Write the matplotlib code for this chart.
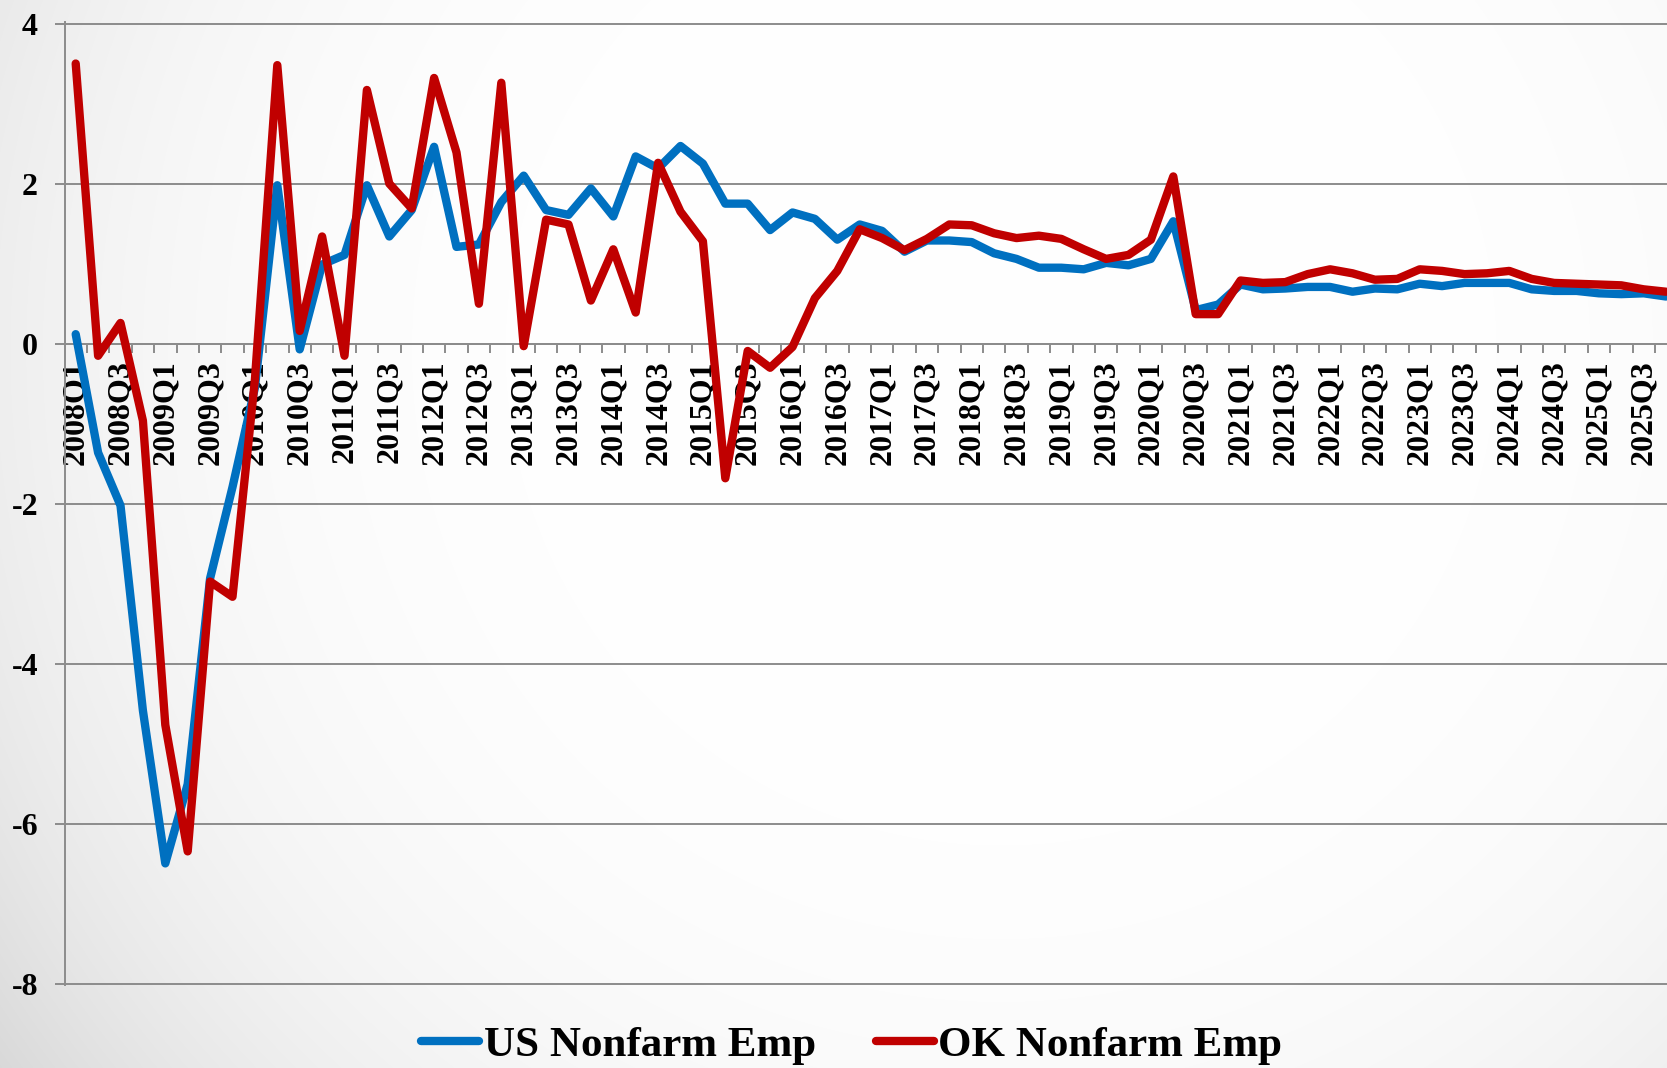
import numpy as np
import matplotlib
matplotlib.use("Agg")
import matplotlib.pyplot as plt
from matplotlib.lines import Line2D

plt.rcParams['font.family'] = ['Liberation Serif', 'DejaVu Serif']
plt.rcParams['font.weight'] = 'bold'
plt.rcParams['axes.unicode_minus'] = False

# ---------------- data ----------------
years = list(range(2008, 2026))
quarters = [f"{y}Q{q}" for y in years for q in range(1, 5)]

us_nonfarm = [
    0.12, -1.36, -2.02, -4.58, -6.49, -5.50, -2.93, -1.79,
    -0.55, 1.98, -0.07, 0.99, 1.11, 1.98, 1.34, 1.67,
    2.46, 1.21, 1.24, 1.77, 2.10, 1.67, 1.61, 1.94,
    1.59, 2.34, 2.19, 2.47, 2.25, 1.75, 1.75, 1.42,
    1.64, 1.56, 1.30, 1.49, 1.41, 1.15, 1.29, 1.29,
    1.27, 1.13, 1.06, 0.95, 0.95, 0.93, 1.01, 0.98,
    1.06, 1.53, 0.42, 0.49, 0.74, 0.68, 0.69, 0.71,
    0.71, 0.65, 0.69, 0.68, 0.75, 0.72, 0.76, 0.76,
    0.76, 0.68, 0.66, 0.66, 0.63, 0.62, 0.63, 0.59,
]
ok_nonfarm = [
    3.50, -0.15, 0.26, -0.96, -4.76, -6.34, -2.97, -3.16,
    -0.45, 3.48, 0.16, 1.34, -0.15, 3.17, 2.00, 1.69,
    3.32, 2.39, 0.50, 3.26, -0.03, 1.55, 1.49, 0.54,
    1.18, 0.39, 2.26, 1.65, 1.28, -1.68, -0.09, -0.30,
    -0.04, 0.57, 0.91, 1.43, 1.32, 1.17, 1.31, 1.49,
    1.48, 1.38, 1.32, 1.35, 1.31, 1.18, 1.06, 1.11,
    1.30, 2.09, 0.37, 0.37, 0.79, 0.76, 0.77, 0.87,
    0.93, 0.88, 0.80, 0.81, 0.93, 0.91, 0.87, 0.88,
    0.91, 0.81, 0.76, 0.75, 0.74, 0.73, 0.68, 0.65,
]
series_names = ["US Nonfarm Emp", "OK Nonfarm Emp"]
y_ticks = [-8, -6, -4, -2, 0, 2, 4]

BLUE = "#0070C0"
RED = "#C00000"
GRID = "#8c8c8c"

# ---------------- figure ----------------
W, H = 1667, 1068
fig = plt.figure(figsize=(W / 100, H / 100), dpi=100)

# background radial gradient
bg = fig.add_axes([0, 0, 1, 1], zorder=-1)
yy, xx = np.mgrid[0:H, 0:W]
d = np.sqrt((xx - 1000.0) ** 2 + (yy - 350.0) ** 2) / 1231.0
g = 1 - 0.15 * np.clip(d, 0, 1.2) ** 4
bg.imshow(np.dstack([g, g, g]), extent=[0, 1, 0, 1], aspect='auto',
          interpolation='bilinear', vmin=0, vmax=1)
bg.axis('off')

ax = fig.add_axes([64.5 / W, 1 - 985.5 / H, 1612.8 / W, (985.5 - 22.3) / H])
ax.set_facecolor('none')

x = np.arange(len(quarters))
lw = 6
ax.plot(x, us_nonfarm, color=BLUE, lw=lw, solid_joinstyle='round',
        solid_capstyle='round', zorder=3)
ax.plot(x, ok_nonfarm, color=RED, lw=lw, solid_joinstyle='round',
        solid_capstyle='round', zorder=4)

ax.set_xlim(-0.5, len(quarters) - 0.5)
ax.set_ylim(-8.015, 4.015)

# y axis
ax.set_yticks(y_ticks)
ax.set_yticklabels([str(v) for v in y_ticks], fontsize=23, fontweight='bold')
ax.yaxis.grid(True, color=GRID, lw=1.4)
ax.tick_params(axis='y', length=7, width=1.4, color=GRID, pad=12)

# spines
for s in ['top', 'right']:
    ax.spines[s].set_visible(False)
ax.spines['left'].set_color(GRID)
ax.spines['left'].set_linewidth(1.4)
ax.spines['bottom'].set_position(('data', 0))
ax.spines['bottom'].set_color(GRID)
ax.spines['bottom'].set_linewidth(1.4)

# x axis: tick marks at category boundaries, labels every other quarter
ax.set_xticks(np.arange(0.5, len(quarters) - 0.5, 1.0))
ax.set_xticklabels([])
ax.tick_params(axis='x', which='major', direction='out', length=6.5,
               width=1.4, color=GRID)
lab_pos = x[::2]
ax.set_xticks(lab_pos, minor=True)
ax.set_xticklabels([quarters[i] for i in lab_pos], minor=True, rotation=90,
                   fontsize=23, fontweight='bold', va='top', ha='center')
ax.tick_params(axis='x', which='minor', length=0, pad=12)

# legend
handles = [Line2D([0], [0], color=BLUE, lw=lw, solid_capstyle='round'),
           Line2D([0], [0], color=RED, lw=lw, solid_capstyle='round')]
fig.legend(handles, series_names, loc='center', bbox_to_anchor=(0.511, 0.021),
           ncol=2, frameon=False, prop={'family': 'Liberation Serif',
                                        'weight': 'bold', 'size': 31},
           handlelength=1.35, handletextpad=0.1, columnspacing=1.4,
           borderpad=0)

fig.savefig("out.png", dpi=100)
